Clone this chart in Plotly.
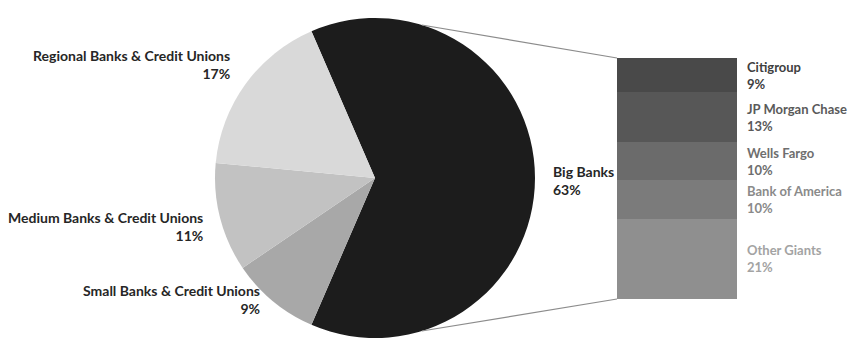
import math
import plotly.graph_objects as go

# ---------------- data ----------------
pie_labels = ["Big Banks", "Small Banks & Credit Unions", "Medium Banks & Credit Unions",
              "Regional Banks & Credit Unions"]
pie_values = [63, 9, 11, 17]
pie_colors = ["#1c1c1c", "#a8a8a8", "#c2c2c2", "#d9d9d9"]

bar_labels = ["Other Giants", "Bank of America", "Wells Fargo", "JP Morgan Chase", "Citigroup"]
bar_values = [21, 10, 10, 13, 9]
bar_colors = ["#8f8f8f", "#7b7b7b", "#6b6b6b", "#575757", "#494949"]
bar_text_colors = ["#a3a3a3", "#8a8a8a", "#6e6e6e", "#5a5a5a", "#404040"]

W, H = 853, 342
FONT = "Lato"
FS = 14
FS_BAR = 13

# pie geometry (pixels)
cx, cy, r = 375, 178, 160
# bar geometry (pixels)
bx0, bx1, by0, by1 = 617, 737, 58, 299


def px(x):
    return x / W


def py(y):
    return 1 - y / H


fig = go.Figure()

big_share = pie_values[0] / sum(pie_values)
fig.add_trace(go.Pie(
    labels=pie_labels, values=pie_values, sort=False, direction="clockwise",
    rotation=90 - big_share * 180,
    marker=dict(colors=pie_colors, line=dict(width=0)),
    textinfo="none", hoverinfo="label+percent", showlegend=False,
    domain=dict(x=[px(cx - r), px(cx + r)], y=[py(cy + r), py(cy - r)]),
))

for lab, val, col in zip(bar_labels, bar_values, bar_colors):
    fig.add_trace(go.Bar(
        x=["Big Banks"], y=[val], name=lab, marker=dict(color=col, line=dict(width=0)),
        width=1, showlegend=False, xaxis="x", yaxis="y",
    ))

total_bar = sum(bar_values)
fig.update_layout(
    width=W, height=H, margin=dict(l=0, r=0, t=0, b=0),
    paper_bgcolor="white", plot_bgcolor="white",
    barmode="stack", bargap=0,
    xaxis=dict(domain=[px(bx0), px(bx1)], range=[-0.5, 0.5], visible=False, fixedrange=True),
    yaxis=dict(domain=[py(by1), py(by0)], range=[0, total_bar], visible=False, fixedrange=True),
    font=dict(family=FONT),
)

# connector lines from pie to bar
ang = math.radians(17)
p_top = (cx + r * math.sin(ang), cy - r * math.cos(ang))
p_bot = (cx + r * math.sin(ang), cy + r * math.cos(ang))
for (x0, y0), (x1, y1) in [(p_top, (bx0, by0)), (p_bot, (bx0, by1))]:
    fig.add_shape(type="line", xref="paper", yref="paper",
                  x0=px(x0), y0=py(y0), x1=px(x1), y1=py(y1),
                  line=dict(color="#8c8c8c", width=1.2))

# pie labels
pie_label_pos = {
    "Regional Banks & Credit Unions": (232, 65, "right"),
    "Medium Banks & Credit Unions": (205, 226, "right"),
    "Small Banks & Credit Unions": (262, 299, "right"),
    "Big Banks": (551, 180, "left"),
}
for lab, val in zip(pie_labels, pie_values):
    x, y, anc = pie_label_pos[lab]
    fig.add_annotation(
        x=px(x), y=py(y), xref="paper", yref="paper", xanchor=anc, yanchor="middle",
        text=f"<b>{lab}<br>{val}%</b>", showarrow=False, align=anc,
        font=dict(family=FONT, size=FS, color="#262626"),
    )

# bar labels
cum = 0
for lab, val, tc in zip(bar_labels, bar_values, bar_text_colors):
    mid = cum + val / 2
    cum += val
    fig.add_annotation(
        x=px(bx1 + 8), y=mid, xref="paper", yref="y", xanchor="left", yanchor="middle",
        text=f"<b>{lab}<br>{val}%</b>", showarrow=False, align="left",
        font=dict(family=FONT, size=FS_BAR, color=tc),
    )

fig.write_html("out.html")
